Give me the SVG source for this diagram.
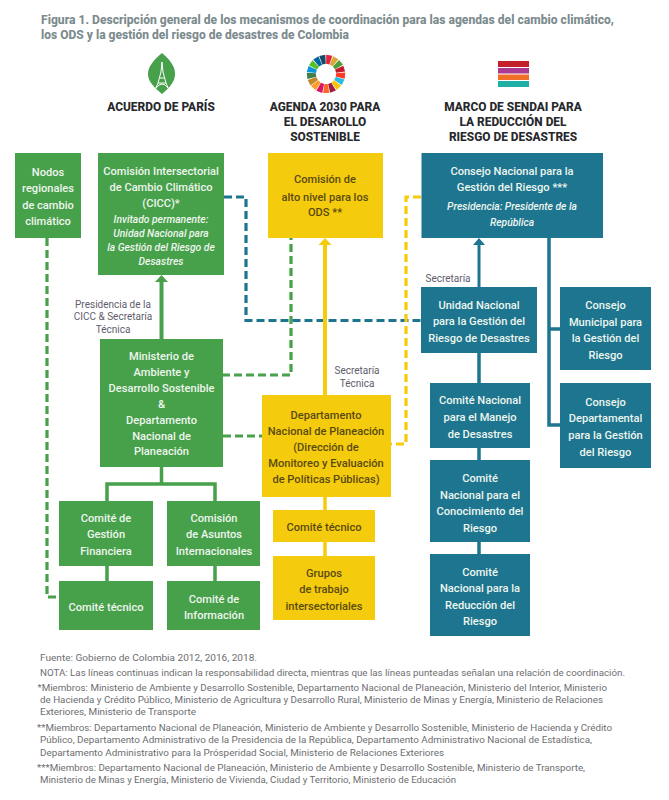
<svg xmlns="http://www.w3.org/2000/svg" xmlns:xlink="http://www.w3.org/1999/xlink" width="669" height="800" viewBox="0 0 669 800">
<style>
text{font-family:"Roboto","Liberation Sans",sans-serif;text-anchor:middle}
.g{fill:#47a04a}.y{fill:#f4cb0d}.t{fill:#1d7590}
.n{font-size:11.1px;font-weight:500;fill:#eef6ee}
.d{font-size:11.1px;font-weight:500;fill:#5a4a10}
.i{font-size:10.3px;font-weight:500;font-style:italic;fill:#eef6ee}
.l{font-size:10px;fill:#5f5d6b}
.h{font-size:11.9px;font-weight:800;fill:#26282c}
.title{font-size:12px;font-weight:800;fill:#7c8b8e;text-anchor:start}
.f{font-size:9.6px;fill:#6d6e71;text-anchor:start}
.c{fill:none}
.sg{stroke:#47a04a}.sy{stroke:#f4cb0d}.st{stroke:#1d7590}
.dash{stroke-width:3.2;stroke-dasharray:8 4}
.solid{stroke-width:3.5}
</style>
<defs>
<polygon id="seg" points="-3.1,-19 3.1,-19 1.7,-10 -1.7,-10"/>
</defs>
<rect width="669" height="800" fill="#fff"/>
<g id="title">
<text class="title" x="41" y="24" textLength="573" lengthAdjust="spacingAndGlyphs">Figura 1. Descripción general de los mecanismos de coordinación para las agendas del cambio climático,</text>
<text class="title" x="41" y="39" textLength="308" lengthAdjust="spacingAndGlyphs">los ODS y la gestión del riesgo de desastres de Colombia</text>
</g>
<g id="icon-paris">
<path d="M162 53C170 60 175 66 175 74C175 82 169 88 162 94C155 88 148 82 148 74C148 66 154 60 162 53Z" class="g"/>
<path d="M162 62L161 72L158 83L155 90M162 62L163 72L166 83L169 90M159.500 78H164.500M158 83H166M156 88Q162 80 168 88" fill="none" stroke="#fff" stroke-width="1"/>
</g>
<g id="icon-agenda" transform="translate(326 74)">
<use xlink:href="#seg" href="#seg" fill="#e5243b" transform="rotate(10)"/>
<use xlink:href="#seg" href="#seg" fill="#dda63a" transform="rotate(31.200)"/>
<use xlink:href="#seg" href="#seg" fill="#4c9f38" transform="rotate(52.400)"/>
<use xlink:href="#seg" href="#seg" fill="#c5192d" transform="rotate(73.500)"/>
<use xlink:href="#seg" href="#seg" fill="#ff3a21" transform="rotate(94.700)"/>
<use xlink:href="#seg" href="#seg" fill="#26bde2" transform="rotate(115.900)"/>
<use xlink:href="#seg" href="#seg" fill="#fcc30b" transform="rotate(137.100)"/>
<use xlink:href="#seg" href="#seg" fill="#a21942" transform="rotate(158.200)"/>
<use xlink:href="#seg" href="#seg" fill="#fd6925" transform="rotate(179.400)"/>
<use xlink:href="#seg" href="#seg" fill="#dd1367" transform="rotate(200.600)"/>
<use xlink:href="#seg" href="#seg" fill="#fd9d24" transform="rotate(221.800)"/>
<use xlink:href="#seg" href="#seg" fill="#bf8b2e" transform="rotate(242.900)"/>
<use xlink:href="#seg" href="#seg" fill="#3f7e44" transform="rotate(264.100)"/>
<use xlink:href="#seg" href="#seg" fill="#0a97d9" transform="rotate(285.300)"/>
<use xlink:href="#seg" href="#seg" fill="#56c02b" transform="rotate(306.500)"/>
<use xlink:href="#seg" href="#seg" fill="#00689d" transform="rotate(327.600)"/>
<use xlink:href="#seg" href="#seg" fill="#19486a" transform="rotate(348.800)"/>
</g>
<g id="icon-sendai">
<rect x="498" y="61" width="31" height="6" fill="#c4202a"/>
<rect x="498" y="68" width="31" height="5.500" fill="#a93a8f"/>
<rect x="498" y="74.500" width="31" height="5.500" fill="#f0702a"/>
<rect x="498" y="81" width="31" height="6" fill="#1fb0a5"/>
</g>
<g id="headers">
<text class="h" x="161" y="111">ACUERDO DE PARÍS</text>
<text class="h" x="325" y="111">AGENDA 2030 PARA</text>
<text class="h" x="325" y="126">EL DESAROLLO</text>
<text class="h" x="325" y="141">SOSTENIBLE</text>
<text class="h" x="513" y="111">MARCO DE SENDAI PARA</text>
<text class="h" x="513" y="126">LA REDUCCIÓN DEL</text>
<text class="h" x="513" y="141">RIESGO DE DESASTRES</text>
</g>
<g id="connectors">
<path class="c sg dash" d="M47 238V597H59"/>
<path class="c sg dash" d="M222 375H291V238"/>
<path class="c sg dash" d="M223 436H262"/>
<path class="c st dash" d="M224 197H246V320.500H421"/>
<path class="c sy dash" d="M421 197H406V444H391"/>
<path class="c sg" stroke-width="4" d="M161.500 339V280"/>
<polygon class="g" points="161.500,275 155,282 168,282"/>
<path class="c sy" stroke-width="4" d="M325 395V243"/>
<polygon class="y" points="325,238 318.500,245 331.500,245"/>
<path class="c st" stroke-width="3" d="M479 287V243"/>
<polygon class="t" points="479,238 473,245 485,245"/>
<path class="c st solid" d="M479 353V383M479 448V460M479 542V554"/>
<path class="c st solid" d="M549 238V425H560M549 329H560"/>
<path class="c sg solid" d="M161.500 467V484M107 501V484H215V501M107 566V581M215 566V581"/>
<path class="c sy solid" d="M325 497V510M325 542V556"/>
</g>
<g id="nodos"><rect class="g" x="15" y="153" width="66" height="85"/>
<text class="n" x="48" y="176">Nodos</text><text class="n" x="48" y="192">regionales</text><text class="n" x="48" y="209">de cambio</text><text class="n" x="48" y="225">climático</text></g>
<g id="cicc"><rect class="g" x="98" y="153" width="126" height="122"/>
<text class="n" x="161" y="175">Comisión Intersectorial</text><text class="n" x="161" y="191">de Cambio Climático</text><text class="n" x="161" y="207">(CICC)*</text>
<text class="i" x="161" y="223">Invitado permanente:</text><text class="i" x="161" y="237">Unidad Nacional para</text><text class="i" x="161" y="251">la Gestión del Riesgo de</text><text class="i" x="161" y="265">Desastres</text></g>
<g id="ministerio"><rect class="g" x="100" y="339" width="123" height="128"/>
<text class="n" x="161.500" y="360">Ministerio de</text><text class="n" x="161.500" y="376">Ambiente y</text><text class="n" x="161.500" y="392">Desarrollo Sostenible</text><text class="n" x="161.500" y="408">&amp;</text><text class="n" x="161.500" y="424">Departamento</text><text class="n" x="161.500" y="440">Nacional de</text><text class="n" x="161.500" y="455">Planeación</text></g>
<g id="gestion"><rect class="g" x="59" y="501" width="94" height="65"/>
<text class="n" x="106" y="522">Comité de</text><text class="n" x="106" y="538">Gestión</text><text class="n" x="106" y="555">Financiera</text></g>
<g id="asuntos"><rect class="g" x="167" y="501" width="93" height="65"/>
<text class="n" x="214" y="522">Comisión</text><text class="n" x="214" y="538">de Asuntos</text><text class="n" x="214" y="555">Internacionales</text></g>
<g id="tecnico-verde"><rect class="g" x="59" y="581" width="94" height="49"/>
<text class="n" x="106" y="611">Comité técnico</text></g>
<g id="informacion"><rect class="g" x="167" y="581" width="93" height="49"/>
<text class="n" x="214" y="603">Comité de</text><text class="n" x="214" y="619">Información</text></g>
<g id="alto-nivel"><rect class="y" x="268" y="153" width="115" height="85"/>
<text class="d" x="325" y="183">Comisión de</text><text class="d" x="325" y="201">alto nivel para los</text><text class="d" x="325" y="216">ODS **</text></g>
<g id="dnp"><rect class="y" x="262" y="395" width="129" height="102"/>
<text class="d" x="326" y="419">Departamento</text><text class="d" x="326" y="435">Nacional de Planeación</text><text class="d" x="326" y="451">(Dirección de</text><text class="d" x="326" y="467">Monitoreo y Evaluación</text><text class="d" x="326" y="483">de Políticas Públicas)</text></g>
<g id="tecnico-amarillo"><rect class="y" x="273" y="510" width="102" height="32"/>
<text class="d" x="324" y="531">Comité técnico</text></g>
<g id="grupos"><rect class="y" x="273" y="556" width="102" height="64"/>
<text class="d" x="324" y="577">Grupos</text><text class="d" x="324" y="593">de trabajo</text><text class="d" x="324" y="610">intersectoriales</text></g>
<g id="consejo-nacional"><rect class="t" x="421.500" y="153" width="181.500" height="85"/>
<text class="n" x="512" y="175">Consejo Nacional para la</text><text class="n" x="512" y="191">Gestión del Riesgo ***</text><text class="i" x="512" y="210">Presidencia: Presidente de la</text><text class="i" x="512" y="226">República</text></g>
<g id="unidad"><rect class="t" x="421" y="287" width="116" height="66"/>
<text class="n" x="479" y="309">Unidad Nacional</text><text class="n" x="479" y="325">para la Gestión del</text><text class="n" x="479" y="342">Riesgo de Desastres</text></g>
<g id="municipal"><rect class="t" x="560" y="287" width="91" height="83"/>
<text class="n" x="605.500" y="309">Consejo</text><text class="n" x="605.500" y="326">Municipal para</text><text class="n" x="605.500" y="342">la Gestión del</text><text class="n" x="605.500" y="359">Riesgo</text></g>
<g id="departamental"><rect class="t" x="560" y="383" width="91" height="85"/>
<text class="n" x="605.500" y="406">Consejo</text><text class="n" x="605.500" y="422">Departamental</text><text class="n" x="605.500" y="439">para la Gestión</text><text class="n" x="605.500" y="456">del Riesgo</text></g>
<g id="manejo"><rect class="t" x="430" y="383" width="100" height="65"/>
<text class="n" x="480" y="404">Comité Nacional</text><text class="n" x="480" y="421">para el Manejo</text><text class="n" x="480" y="438">de Desastres</text></g>
<g id="conocimiento"><rect class="t" x="430" y="460" width="100" height="82"/>
<text class="n" x="480" y="482">Comité</text><text class="n" x="480" y="499">Nacional para el</text><text class="n" x="480" y="515">Conocimiento del</text><text class="n" x="480" y="532">Riesgo</text></g>
<g id="reduccion"><rect class="t" x="430" y="554" width="100" height="82"/>
<text class="n" x="480" y="576">Comité</text><text class="n" x="480" y="592">Nacional para la</text><text class="n" x="480" y="609">Reducción del</text><text class="n" x="480" y="625">Riesgo</text></g>
<g id="labels">
<text class="l" x="113" y="308">Presidencia de la</text><text class="l" x="113" y="320">CICC &amp; Secretaría</text><text class="l" x="113" y="333">Técnica</text>
<text class="l" x="357" y="374">Secretaría</text><text class="l" x="357" y="387">Técnica</text>
<text class="l" x="448" y="282">Secretaría</text>
</g>
<g id="notes">
<text class="f" x="40" y="661" textLength="217" lengthAdjust="spacingAndGlyphs">Fuente: Gobierno de Colombia 2012, 2016, 2018.</text>
<text class="f" x="40" y="676" textLength="585" lengthAdjust="spacingAndGlyphs">NOTA: Las líneas continuas indican la responsabilidad directa, mientras que las líneas punteadas señalan una relación de coordinación.</text>
<text class="f" x="37.500" y="691" textLength="569.500" lengthAdjust="spacingAndGlyphs">*Miembros: Ministerio de Ambiente y Desarrollo Sostenible, Departamento Nacional de Planeación, Ministerio del Interior, Ministerio</text>
<text class="f" x="40" y="703" textLength="563" lengthAdjust="spacingAndGlyphs">de Hacienda y Crédito Público, Ministerio de Agricultura y Desarrollo Rural, Ministerio de Minas y Energía, Ministerio de Relaciones</text>
<text class="f" x="40" y="715" textLength="156" lengthAdjust="spacingAndGlyphs">Exteriores, Ministerio de Transporte</text>
<text class="f" x="37" y="731" textLength="575" lengthAdjust="spacingAndGlyphs">**Miembros: Departamento Nacional de Planeación, Ministerio de Ambiente y Desarrollo Sostenible, Ministerio de Hacienda y Crédito</text>
<text class="f" x="40" y="743" textLength="552" lengthAdjust="spacingAndGlyphs">Público, Departamento Administrativo de la Presidencia de la República, Departamento Administrativo Nacional de Estadística,</text>
<text class="f" x="40" y="756" textLength="404" lengthAdjust="spacingAndGlyphs">Departamento Administrativo para la Prósperidad Social, Ministerio de Relaciones Exteriores</text>
<text class="f" x="37" y="771" textLength="548" lengthAdjust="spacingAndGlyphs">***Miembros: Departamento Nacional de Planeación, Ministerio de Ambiente y Desarrollo Sostenible, Ministerio de Transporte,</text>
<text class="f" x="40" y="783" textLength="416" lengthAdjust="spacingAndGlyphs">Ministerio de Minas y Energía, Ministerio de Vivienda, Ciudad y Territorio, Ministerio de Educación</text>
</g>
</svg>
